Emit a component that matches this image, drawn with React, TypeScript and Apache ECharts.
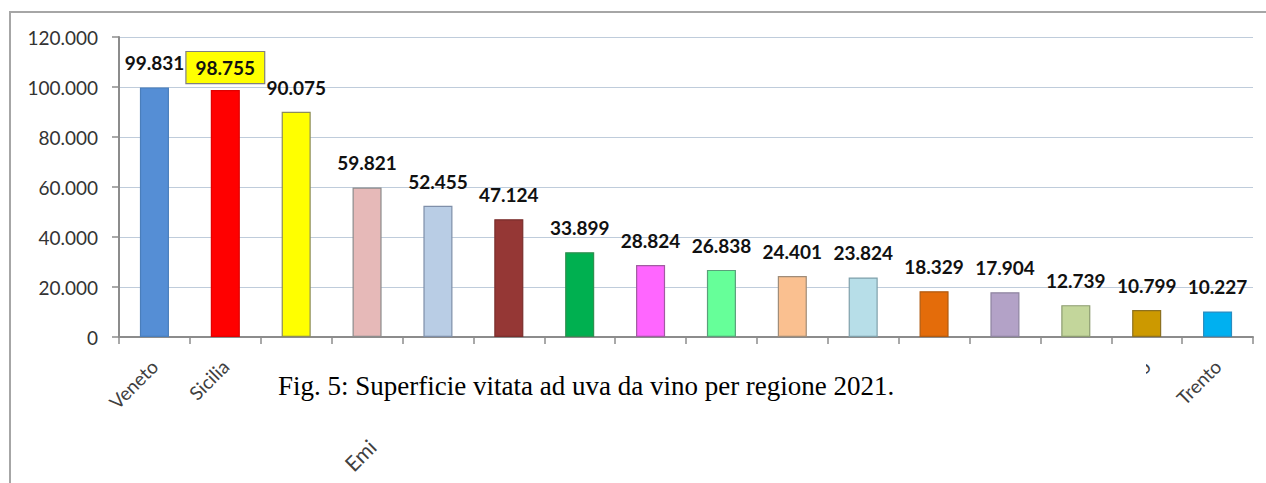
import React, { useEffect, useRef } from "react";
import * as echarts from "echarts";

const regions = [
  "Veneto", "Sicilia", "Puglia", "Emilia-Romagna", "Toscana", "Piemonte", "Abruzzo", "Campania",
  "Lombardia", "Friuli V.G.", "Marche", "Sardegna", "Lazio", "Umbria", "Bolzano", "Trento",
];
const values = [99831, 98755, 90075, 59821, 52455, 47124, 33899, 28824, 26838, 24401, 23824, 18329, 17904, 12739, 10799, 10227];
const barColors = [
  "#558ED5", "#FF0000", "#FFFF00", "#E6B9B8", "#B9CDE5", "#953735", "#00B050", "#FF66FF",
  "#66FF99", "#FAC090", "#B7DEE8", "#E46C0A", "#B3A2C7", "#C3D69B", "#CC9900", "#00B0F0",
];
const barBorders = [
  "#4A7EBB", "#E00000", "#8C8C5A", "#8C8C8C", "#7F8FA9", "#7A2E2C", "#2F8F4F", "#A05CA0",
  "#5AA07A", "#A08C78", "#7FA0AA", "#B05A10", "#8E84A0", "#8C9C70", "#8C7020", "#2A8CC0",
];
const yTicks = [0, 20000, 40000, 60000, 80000, 100000, 120000];
const caption = "Fig. 5: Superficie vitata ad uva da vino per regione 2021.";
const highlighted = 1;

const fmt = (v: number) => (v === 0 ? "0" : (v / 1000).toFixed(3));

export default function App() {
  const ref = useRef<HTMLDivElement>(null);
  useEffect(() => {
    document.body.style.margin = "0";
    const chart = echarts.init(ref.current!, undefined, { renderer: "svg" });
    chart.setOption({
      animation: false,
      backgroundColor: "#ffffff",
      textStyle: { fontFamily: "Lato" },
      grid: { left: 119, top: 37, right: 13, bottom: 146, containLabel: false, outerBoundsMode: "none" },
      xAxis: {
        type: "category",
        data: regions,
        axisLine: { lineStyle: { color: "#8c8c8c", width: 2 } },
        axisTick: { show: true, length: 7, lineStyle: { color: "#8c8c8c", width: 1.5 } },
        axisLabel: {
          rotate: 45,
          interval: 0,
          margin: 26,
          fontSize: 19,
          color: "#404040",
          fontFamily: "Lato",
        },
      },
      yAxis: {
        type: "value",
        min: yTicks[0],
        max: yTicks[yTicks.length - 1],
        interval: 20000,
        axisLine: { show: true, lineStyle: { color: "#8c8c8c", width: 2 } },
        axisTick: { show: true, length: 7, lineStyle: { color: "#8c8c8c", width: 1.5 } },
        splitLine: { lineStyle: { color: "#BFCCDB", width: 1.2 } },
        axisLabel: {
          formatter: (v: number) => fmt(v),
          fontSize: 19,
          color: "#333333",
          margin: 21,
          fontFamily: "Lato",
        },
      },
      series: [
        {
          type: "bar",
          barWidth: "41%",
          data: values.map((v, i) => ({
            value: v,
            itemStyle: { color: barColors[i], borderColor: barBorders[i], borderWidth: 1.2 },
            label:
              i === highlighted
                ? {
                    backgroundColor: "#FFFF00",
                    borderColor: "#808080",
                    borderWidth: 1.2,
                    padding: [6, 9],
                    distance: 7,
                  }
                : {},
          })),
          label: {
            show: true,
            position: "top",
            distance: 15,
            formatter: (p: any) => fmt(p.value),
            fontSize: 19,
            fontWeight: "bold",
            color: "#111111",
            fontFamily: "Lato",
          },
        },
      ],
      graphic: [
        {
          type: "rect",
          z: 100,
          silent: true,
          shape: { x: 241, y: 347, width: 905, height: 140 },
          style: { fill: "#ffffff" },
        },
        {
          type: "text",
          z: 101,
          x: 278,
          y: 386,
          style: {
            text: caption,
            font: '27px "Liberation Serif"',
            fill: "#000000",
            verticalAlign: "middle",
            align: "left",
          },
        },
        {
          type: "text",
          z: 101,
          x: 360,
          y: 455,
          rotation: Math.PI / 4,
          style: {
            text: "Emi",
            font: '21px "Lato"',
            fill: "#404040",
            verticalAlign: "middle",
            align: "center",
          },
        },
        {
          type: "rect",
          z: 102,
          silent: true,
          shape: { x: 10, y: 12, width: 1400, height: 600 },
          style: { fill: "none", stroke: "#a6a6a6", lineWidth: 2 },
        },
      ],
    });
    return () => chart.dispose();
  }, []);
  return <div ref={ref} style={{ width: 1266, height: 483 }} />;
}
